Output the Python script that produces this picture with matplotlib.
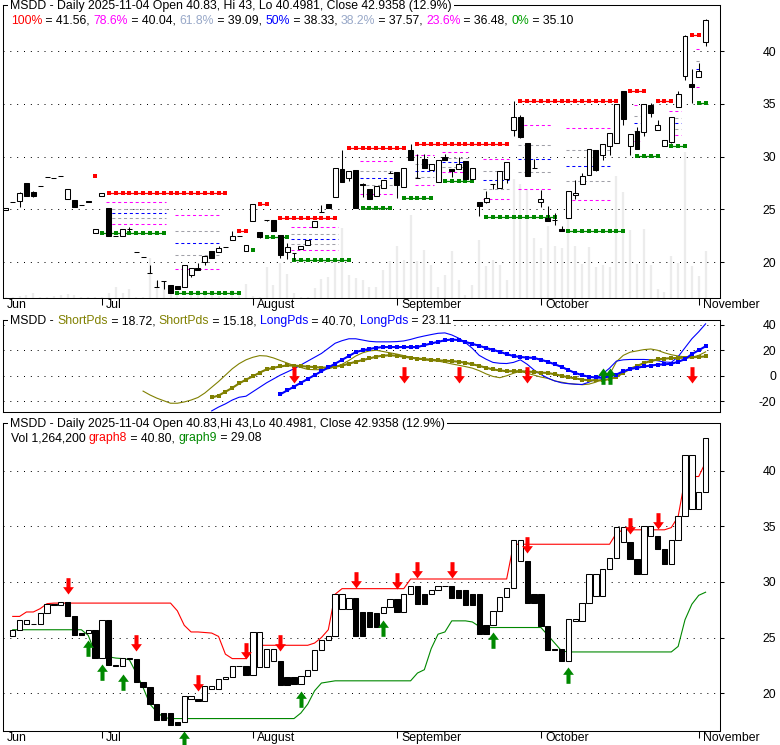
import matplotlib
matplotlib.use("Agg")
import matplotlib.pyplot as plt
import numpy as np
from matplotlib.path import Path
from matplotlib.patches import Rectangle
from matplotlib.transforms import ScaledTranslation
from matplotlib.font_manager import FontProperties

plt.rcParams['font.family'] = ['Liberation Sans', 'DejaVu Sans']
plt.rcParams['axes.unicode_minus'] = False
plt.rcParams['lines.scale_dashes'] = False

FS = 8.8
W, H = 780, 745

# daily bars, 2025-06-10 .. 2025-11-04
opens = [24.9, 25.68, 25.8, 27.45, 26.6, 27.2, 28.05, 27.95, 28.2, 26.0,
         25.9, 25.45, 25.8, 22.75, 26.3, 25.1, 22.45, 22.45, 23.1, 20.95,
         20.5, 19.0, 17.6, 18.2, 17.8, 17.7, 17.65, 18.75, 19.4, 20.0,
         21.0, 20.95, 21.45, 22.05, 22.45, 21.0, 23.9, 22.85, 24.0, 24.0,
         22.6, 20.95, 20.85, 21.2, 21.65, 23.3, 24.75, 25.5, 26.15, 28.8,
         28.0, 28.7, 27.35, 26.95, 26.3, 27.0, 28.45, 28.5, 27.15, 30.6,
         28.0, 29.8, 28.75, 27.6, 30.0, 28.85, 28.8, 29.55, 27.85, 25.65,
         25.7, 27.35, 27.05, 27.9, 32.5, 33.7, 31.3, 28.9, 25.7, 24.15,
         23.95, 23.15, 24.15, 26.35, 27.4, 28.25, 30.66, 30.1, 31.0, 31.25,
         36.25, 31.0, 32.4, 32.35, 34.85, 32.5, 31.0, 31.4, 34.65, 37.6,
         36.9, 37.5, 40.83]
highs = [25.15, 25.7, 26.6, 27.45, 26.7, 27.2, 28.05, 27.95, 28.2, 26.92,
         25.9, 25.45, 25.8, 23.15, 26.55, 25.1, 22.45, 23.15, 23.3, 20.95,
         20.5, 19.75, 18.25, 18.2, 17.8, 17.7, 19.7, 19.45, 19.9, 20.6,
         21.0, 21.55, 21.45, 22.9, 22.45, 21.6, 25.5, 22.85, 24.0, 24.0,
         22.6, 21.8, 20.85, 21.55, 22.05, 23.9, 25.4, 25.5, 28.9, 30.66,
         28.6, 28.7, 27.5, 26.95, 27.2, 27.75, 28.6, 28.5, 28.95, 31.2,
         30.2, 30.2, 29.25, 29.65, 30.25, 28.85, 29.95, 29.55, 28.9, 25.65,
         26.75, 27.35, 28.65, 29.5, 35.25, 33.9, 31.3, 29.8, 26.8, 25.3,
         24.6, 23.4, 26.7, 27.75, 28.4, 30.7, 30.66, 31.2, 32.2, 34.95,
         36.25, 32.1, 32.8, 35.0, 35.1, 33.5, 31.6, 33.75, 36.2, 41.5,
         38.25, 38.9, 43.0]
lows = [24.9, 25.66, 25.2, 26.25, 26.2, 27.2, 28.05, 27.95, 28.2, 26.0,
        25.2, 25.45, 25.7, 22.75, 26.3, 22.5, 22.45, 22.45, 22.9, 20.95,
        20.5, 19.0, 17.6, 17.4, 17.1, 17.4, 17.65, 18.55, 19.25, 19.75,
        20.35, 20.95, 21.45, 22.05, 22.45, 21.0, 23.9, 22.3, 23.9, 22.9,
        20.4, 20.3, 20.2, 21.2, 21.65, 23.3, 24.75, 25.1, 26.15, 27.55,
        27.7, 25.1, 26.2, 25.95, 26.3, 27.0, 28.45, 26.1, 27.15, 29.65,
        28.0, 28.95, 28.75, 27.6, 29.65, 28.1, 28.8, 27.85, 27.85, 24.4,
        25.55, 26.9, 27.05, 27.5, 31.9, 31.75, 28.15, 28.9, 25.25, 23.85,
        23.5, 22.9, 24.15, 26.0, 27.4, 28.25, 28.65, 29.65, 30.1, 31.25,
        33.0, 30.1, 30.75, 31.95, 33.7, 32.5, 31.0, 31.25, 34.65, 37.25,
        35.05, 37.5, 40.4981]
closes = [25.15, 25.7, 26.56, 26.26, 26.26, 27.2, 28.05, 27.95, 28.2, 26.92,
          25.2, 25.45, 25.7, 23.15, 26.55, 22.5, 22.45, 23.15, 23.1, 20.95,
          20.5, 19.0, 17.6, 18.2, 17.1, 17.4, 19.7, 19.45, 19.25, 20.6,
          20.4, 21.3, 21.45, 22.45, 22.45, 21.6, 25.5, 22.35, 23.95, 22.9,
          20.7, 21.45, 20.85, 21.55, 22.05, 23.9, 24.75, 25.1, 28.9, 27.55,
          28.6, 25.1, 27.3, 25.95, 27.2, 27.75, 28.45, 27.3, 28.95, 29.65,
          28.0, 28.95, 29.25, 29.65, 29.65, 28.6, 29.3, 27.9, 28.9, 25.35,
          26.1, 27.35, 28.65, 29.5, 33.75, 31.85, 28.15, 28.9, 26.0, 23.85,
          23.95, 22.9, 26.7, 26.5, 28.15, 30.7, 28.75, 31.2, 32.2, 34.95,
          33.6, 32.1, 30.75, 35.0, 34.1, 33.0, 31.6, 33.75, 35.9, 41.4,
          36.55, 38.1, 42.9358]
# volume in thousands of shares
volume_k = [27, 27, 54, 73, 143, 27, 27, 54, 73, 116,
            73, 27, 27, 27, 27, 135, 296, 135, 250, 27,
            27, 1076, 449, 430, 296, 116, 27, 135, 207, 135,
            100, 54, 27, 207, 116, 369, 54, 27, 834, 342,
            942, 654, 143, 27, 27, 269, 503, 565, 1049, 1883,
            611, 538, 476, 296, 296, 745, 987, 1391, 1022, 2225,
            987, 1283, 880, 296, 611, 1256, 476, 89, 342, 1560,
            853, 1030, 896, 476, 3201, 3067, 2905, 1614, 1345, 1929,
            1391, 1345, 2359, 1391, 923, 1372, 834, 896, 834, 3274,
            2851, 1821, 907, 1848, 896, 250, 161, 1122, 950, 3927,
            861, 584, 1264]
vol_top_k = 7882

month_names = ['Jun', 'Jul', 'August', 'September', 'October', 'November']
month_idx = [0, 14, 36, 57, 78, 101]

# fibonacci retracement pieces (top panel)
hi_start = [13, 15, 34, 37, 40, 50, 60, 75, 91, 95, 100]
hi_end = [13, 32, 35, 38, 48, 58, 73, 89, 93, 97, 101]
hi_level = [28.2, 26.5, 22.95, 25.5, 24.15, 30.76, 31.23, 35.3, 36.23, 35.28, 41.56]
lo_start = [14, 25, 36, 38, 42, 52, 58, 64, 70, 82, 92, 97, 101]
lo_end = [23, 34, 36, 41, 50, 56, 62, 68, 80, 90, 95, 99, 102]
lo_level = [22.75, 17.1, 21.1, 22.35, 20.2, 25.1, 26.04, 27.67, 24.3, 22.95, 30.03, 30.98, 35.10]
set_start = [15, 25, 42, 52, 60, 64, 70, 75, 82, 92, 97, 101]
set_end = [23, 31, 48, 56, 62, 67, 73, 79, 88, 92, 98, 101]
set_hi = [26.5, 26.5, 24.15, 30.76, 31.23, 31.23, 31.23, 35.3, 35.3, 36.23, 35.28, 41.56]
set_lo = [22.75, 17.1, 20.2, 25.1, 26.04, 27.67, 24.3, 24.3, 22.95, 30.03, 30.98, 35.10]
fib_ratio = [0.786, 0.618, 0.5, 0.382, 0.236]
fib_color = ['#ff00ff', '#a0a0a8', '#0000ff', '#a0a0a8', '#ff00ff']

# middle panel
short1_start = 20
short1 = [-12, -15, -17.5, -19.5, -21.5, -21.5, -20.5, -19, -17, -13.5,
          -9, -4.5, 0.5, 5.5, 9.5, 12.5, 14.5, 15.8, 15.5, 14,
          12, 10, 8, 6.5, 5, 4.8, 4.8, 5.5, 7, 9,
          12, 15.5, 18, 19.5, 20, 19, 18, 17, 15.8, 14.5,
          13.2, 12.5, 12, 11.5, 10.5, 9.3, 8.3, 7.2, 6, 4,
          1.5, -0.5, -1.5, 0, 2, 3.5, 2, 0.5, -1, -2,
          -4, -5, -6, -6.5, -7, -6.5, -5, -2.5, 1, 11,
          16, 18.5, 19.5, 20.5, 21, 20, 18, 16.5, 15.5, 14.8,
          14.5, 16, 18.72]
short2_start = 30
short2 = [-17, -15.5, -12.5, -9.5, -6, -3, -0.5, 2.5, 5, 6.3,
          7.3, 8.1, 8, 7.6, 7.2, 6.8, 6.4, 6.5, 7.2, 8,
          9.5, 11, 12.3, 13.6, 15, 15.8, 16.1, 15.7, 15, 14.2,
          13.5, 13, 12.6, 12.1, 11.8, 11.5, 11, 10.2, 9, 7.8,
          6.3, 5, 4.2, 3.6, 3.6, 3.6, 3.3, 3, 2.5, 2.2,
          1.2, 0, -1.2, -2, -3, -3.5, -3.6, -3.6, -2.5, -1,
          2.5, 5.5, 7.6, 10, 11.5, 12.8, 13.5, 13.8, 14, 14.2,
          14.5, 14.8, 15.18]
long1_start = 30
long1 = [-27.5, -24.5, -22, -19, -16.8, -16, -12.5, -9, -5.5, -2.5,
         0.5, 3, 5.5, 8.5, 11.5, 14.5, 17.5, 21.5, 25.5, 27.5,
         29, 29, 28, 27, 26.6, 26.6, 26.6, 26.8, 27.3, 28.5,
         30, 31.2, 32.3, 33.3, 33.6, 32, 29.5, 26, 21.5, 16,
         13, 10.5, 9.8, 9.6, 10.5, 12.5, 9, 4.5, 1, -1.8,
         -4, -5.5, -6.2, -6.6, -6.8, -5, -2.5, 1.5, 6, 11.5,
         12.5, 12.8, 12.8, 12.8, 12.5, 11.8, 10.8, 10.5, 15, 22,
         29, 34.5, 40.7]
long2_start = 40
long2 = [-14.5, -11.5, -8.5, -5.5, -2.5, 0.5, 3.5, 6.5, 9.5, 12.5,
         15.5, 18.5, 20, 21, 22, 22.5, 22.5, 22.5, 22.5, 22.5,
         22.5, 24, 25.3, 26.6, 27.8, 28.4, 28, 26.5, 25, 23.5,
         21.8, 20.3, 18.8, 17, 15.5, 14.7, 14.3, 14, 12.5, 11,
         9, 7, 4.5, 2.2, 0.5, -0.8, -1.3, -1.6, -0.5, 1,
         3.5, 5.3, 6.3, 7.3, 8, 8.7, 9, 9.4, 11, 13,
         17, 20, 23.11]
mid_sell_idx = [42, 58, 66, 76, 100]
mid_sell_y = [-5.5, -5.5, -5.5, -5.5, -5.5]
mid_buy_idx = [87, 88]
mid_buy_y = [6, 6]

# bottom panel
box_filled = [0, 0, 0, 0, 0, 0, 1, 0, 1, 1,
              1, 0, 1, 0, 1, 1, 0, 0, 1, 1,
              1, 1, 1, 1, 1, 0, 0, 1, 0, 0,
              0, 0, 0, 0, 1, 0, 0, 0, 0, 1,
              1, 1, 0, 0, 0, 0, 0, 0, 0, 0,
              1, 1, 1, 1, 0, 0, 1, 0, 0, 1,
              1, 0, 0, 0, 1, 1, 1, 1, 1, 1,
              0, 0, 0, 0, 0, 1, 1, 1, 1, 1,
              1, 0, 0, 0, 0, 0, 0, 0, 0, 0,
              1, 1, 0, 0, 1, 1, 0, 0, 0, 0,
              0, 0]
graph8 = [26.9, 26.9, 27.3, 27.3, 27.6, 28.05, 28.1, 28.1, 28.1, 28.1,
          28.1, 28.1, 28.1, 28.1, 28.1, 28.1, 28.1, 28.1, 28.1, 28.1,
          28.1, 28.1, 28.1, 28.1, 27.4, 26.1, 25.5, 25.5, 25.45, 25.4,
          25.1, 23.5, 23.1, 23.1, 23.1, 24.0, 24.3, 24.3, 24.3, 24.3,
          24.3, 24.3, 24.3, 24.3, 24.5, 25.0, 25.7, 28.9, 29.4, 29.4,
          29.4, 29.4, 29.4, 29.4, 29.4, 29.4, 29.4, 29.4, 30.27, 30.27,
          30.27, 30.27, 30.27, 30.27, 30.27, 30.27, 30.27, 30.27, 30.27, 30.27,
          30.27, 30.27, 30.27, 33.4, 33.4, 33.4, 33.4, 33.4, 33.4, 33.4,
          33.4, 33.4, 33.4, 33.4, 33.4, 33.4, 33.4, 33.4, 34.4, 34.7,
          34.7, 34.7, 34.7, 34.7, 34.7, 34.7, 34.9, 35.9, 39.3, 39.5,
          39.5, 40.8]
graph9 = [25.7, 25.7, 25.7, 25.7, 25.7, 25.7, 25.7, 25.7, 25.7, 25.7,
          25.7, 25.2, 23.6, 23.4, 23.26, 23.15, 23.1, 23.0, 21.8, 20.5,
          19.0, 18.3, 17.8, 17.7, 17.7, 17.7, 17.7, 17.7, 17.7, 17.7,
          17.7, 17.7, 17.7, 17.7, 17.7, 17.7, 17.7, 17.7, 17.7, 17.7,
          17.7, 17.7, 18.2, 19.0, 20.2, 20.9, 21.0, 21.1, 21.1, 21.1,
          21.1, 21.1, 21.1, 21.1, 21.1, 21.1, 21.1, 21.1, 21.1, 21.8,
          22.1, 24.0, 25.3, 25.5, 26.5, 26.5, 26.5, 26.4, 26.0, 25.9,
          25.9, 25.9, 25.9, 25.9, 25.9, 25.9, 25.9, 25.9, 25.2, 24.5,
          23.8, 23.7, 23.7, 23.7, 23.7, 23.7, 23.7, 23.7, 23.7, 23.7,
          23.7, 23.7, 23.7, 23.7, 23.7, 23.7, 23.7, 24.2, 26.6, 28.0,
          28.8, 29.08]
sell_idx = [9, 19, 28, 35, 40, 51, 57, 60, 65, 76, 91, 95]
sell_y = [28.95, 23.8, 20.2, 23.1, 23.8, 29.46, 29.4, 30.4, 30.4, 32.6, 34.35, 34.76]
buy_idx = [12, 14, 17, 26, 43, 55, 71, 82]
buy_y = [24.8, 22.6, 21.7, 16.6, 20.2, 26.6, 25.5, 22.3]

RED = '#ff0000'
GREEN = '#008800'
OLIVE = '#808000'
BLUE = '#0000ff'
MAGENTA = '#ff00ff'
LGRAY = '#98a8c8'

n = len(closes)
idx = np.arange(n)
o = np.array(opens)
c = np.array(closes)
hi = np.array(highs)
lo = np.array(lows)

fig = plt.figure(figsize=(W / 100, H / 100), dpi=100)
ax1 = fig.add_axes([3 / W, 1 - 298 / H, 717 / W, 293 / H])
ax2 = fig.add_axes([3 / W, 1 - 412.3 / H, 717 / W, 92.8 / H])
ax3 = fig.add_axes([3 / W, 1 - 731 / H, 717 / W, 308 / H])

lbl_off = ScaledTranslation(0.04, 0.06, fig.dpi_scale_trans)


def style(ax, yt, ylim):
    ax.set_xlim(-0.42, 104.1)
    ax.set_ylim(*ylim)
    ax.set_yticks(yt)
    ax.set_yticklabels([str(v) for v in yt])
    ax.yaxis.tick_right()
    ax.tick_params(axis='y', direction='out', length=3, width=0.75, pad=37.5,
                   labelsize=FS, colors='black')
    for t in ax.get_yticklabels():
        t.set_ha('right')
    for v in yt:
        ax.axhline(v, color='black', lw=0.72, ls=(0, (0.72, 4.2)), zorder=1)
    for s in ax.spines.values():
        s.set_linewidth(0.75)
        s.set_color('black')


def months(ax):
    ax.set_xticks(month_idx[1:])
    ax.set_xticklabels(month_names[1:])
    ax.tick_params(axis='x', direction='out', length=5, width=0.75, pad=0, labelsize=FS)
    for t in ax.get_xticklabels():
        t.set_ha('left')
        t.set_transform(t.get_transform() + lbl_off)
    ax.text(-0.42, 0, month_names[0], fontsize=FS, ha='left', va='top',
            transform=ax.get_xaxis_transform() + ScaledTranslation(0.04, -0.009, fig.dpi_scale_trans))


# arrow markers, tip at the data point
arrow_dn = Path([(0, 0), (4.8, 6.5), (1.8, 6.5), (1.8, 14.5), (-1.8, 14.5), (-1.8, 6.5), (-4.8, 6.5), (0, 0)],
                closed=True)
arrow_up = Path([(0, 0), (4.8, -6.5), (1.8, -6.5), (1.8, -14.5), (-1.8, -14.5), (-1.8, -6.5), (-4.8, -6.5), (0, 0)],
                closed=True)
AMS = 23.5

# ---- top: candles + volume + fib levels
style(ax1, [20, 25, 30, 35, 40], (16.59, 44.36))
months(ax1)
ax1.vlines(idx, 0, np.array(volume_k) / vol_top_k, transform=ax1.get_xaxis_transform(),
           colors='#ececec', lw=1.6, zorder=0.5)
for s, e, v in zip(hi_start, hi_end, hi_level):
    xs = np.arange(s, e + 1)
    ax1.plot(xs, [v] * len(xs), color=RED, lw=0.9, marker='s', ms=2.7, mew=0, zorder=2)
for s, e, v in zip(lo_start, lo_end, lo_level):
    xs = np.arange(s, e + 1)
    ax1.plot(xs, [v] * len(xs), color=GREEN, lw=0.9, marker='s', ms=2.7, mew=0, zorder=2)
for s, e, h_, l_ in zip(set_start, set_end, set_hi, set_lo):
    for r, col in zip(fib_ratio, fib_color):
        v = l_ + r * (h_ - l_)
        ax1.plot([s - 0.4, e + 0.4], [v, v], color=col, lw=0.75, ls=(0, (2.2, 2.0)), zorder=2)
ax1.vlines(idx, lo, hi, color='black', lw=0.75, zorder=3)
ax1.bar(idx, np.abs(c - o), bottom=np.minimum(o, c), width=0.72,
        color=['white' if cc >= oo else 'black' for oo, cc in zip(opens, closes)],
        edgecolor='black', linewidth=0.75, zorder=4)

# ---- middle: period lines
style(ax2, [-20, 0, 20, 40], (-28.6, 44.1))
ax2.tick_params(axis='x', length=0, labelbottom=False)
ax2.plot(np.arange(short1_start, short1_start + len(short1)), short1, color=OLIVE, lw=0.8, zorder=3)
ax2.plot(np.arange(long1_start, long1_start + len(long1)), long1, color=BLUE, lw=0.8, zorder=3)
ax2.plot(np.arange(short2_start, short2_start + len(short2)), short2, color=OLIVE, lw=1.5,
         marker='s', ms=2.9, mew=0, zorder=4)
ax2.plot(np.arange(long2_start, long2_start + len(long2)), long2, color=BLUE, lw=1.5,
         marker='s', ms=2.9, mew=0, zorder=4)
ax2.plot(mid_sell_idx, mid_sell_y, ls='none', marker=arrow_dn, ms=AMS, mew=0, color=RED, zorder=5)
ax2.plot(mid_buy_idx, mid_buy_y, ls='none', marker=arrow_up, ms=AMS, mew=0, color=GREEN, zorder=5)

# ---- bottom: close-to-close boxes + bands + signals
style(ax3, [20, 25, 30, 35, 40], (16.58, 44.32))
months(ax3)
ax3.bar(idx[1:], c[1:] - c[:-1], bottom=c[:-1], width=0.78,
        color=['black' if f else 'white' for f in box_filled],
        edgecolor='black', linewidth=0.75, zorder=3)
ax3.plot(idx[1:], graph8, color=RED, lw=0.8, zorder=2)
ax3.plot(idx[1:], graph9, color=GREEN, lw=0.8, zorder=2)
ax3.plot(sell_idx, sell_y, ls='none', marker=arrow_dn, ms=AMS, mew=0, color=RED, zorder=5, clip_on=False)
ax3.plot(buy_idx, buy_y, ls='none', marker=arrow_up, ms=AMS, mew=0, color=GREEN, zorder=5, clip_on=False)

# ---- header texts
renderer = fig.canvas.get_renderer()
prop = FontProperties(family=['Liberation Sans'], size=FS)


def adv(s):
    w1 = renderer.get_text_width_height_descent('|' + s + '|', prop, ismath=False)[0]
    w2 = renderer.get_text_width_height_descent('||', prop, ismath=False)[0]
    return w1 - w2


def header(x, y, parts, white=False):
    x0 = x
    for s, col in parts:
        fig.text(x / W, 1 - y / H, s, color=col, fontsize=FS, va='center', ha='left', zorder=5)
        x += adv(s)
    if white:
        fig.add_artist(Rectangle(((x0 - 2) / W, 1 - (y + 5) / H), (x - x0 + 4) / W, 10 / H,
                                 transform=fig.transFigure, facecolor='white', edgecolor='none',
                                 zorder=4))


K = 'black'
header(10, 6, [('MSDD - Daily 2025-11-04 Open 40.83, Hi 43, Lo 40.4981, Close 42.9358 (12.9%)', K)], True)
header(11, 20.5, [('100%', RED), (' = 41.56, ', K), ('78.6%', MAGENTA), (' = 40.04, ', K),
                  ('61.8%', LGRAY), (' = 39.09, ', K), ('50%', BLUE), (' = 38.33, ', K),
                  ('38.2%', LGRAY), (' = 37.57, ', K), ('23.6%', MAGENTA), (' = 36.48, ', K),
                  ('0%', '#00a000'), (' = 35.10', K)])
header(10, 321, [('MSDD - ', K), ('ShortPds', OLIVE), (' = 18.72, ', K), ('ShortPds', OLIVE),
                 (' = 15.18, ', K), ('LongPds', BLUE), (' = 40.70, ', K), ('LongPds', BLUE),
                 (' = 23.11', K)], True)
header(10, 424.5, [('MSDD - Daily 2025-11-04 Open 40.83,Hi 43,Lo 40.4981, Close 42.9358 (12.9%)', K)], True)
header(10.7, 438.5, [('Vol 1,264,200 ', K), ('graph8', RED), (' = 40.80, ', K), ('graph9', GREEN),
                     (' = 29.08', K)])

fig.savefig('out.png', dpi=100)
